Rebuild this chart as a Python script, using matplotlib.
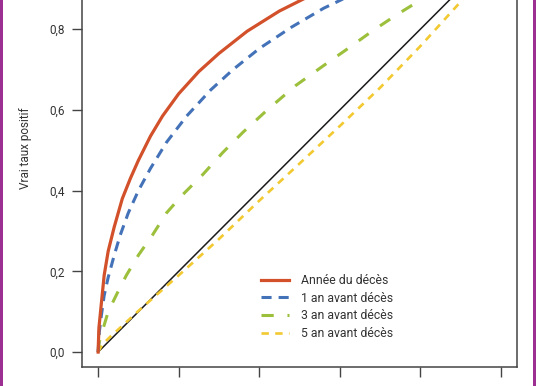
import matplotlib
matplotlib.use("Agg")
from matplotlib import pyplot as plt
from matplotlib.patches import Rectangle

# lecture approximative des courbes ROC
red_x = [0, 0.002, 0.007, 0.015, 0.025, 0.04, 0.06, 0.08, 0.1, 0.13, 0.16, 0.2,
         0.25, 0.3, 0.37, 0.45, 0.52, 0.6, 0.7, 0.8, 0.9, 1.0]
red_y = [0, 0.06, 0.11, 0.19, 0.25, 0.31, 0.38, 0.43, 0.475, 0.535, 0.585, 0.64,
         0.695, 0.74, 0.795, 0.845, 0.88, 0.915, 0.948, 0.974, 0.99, 1.0]

blue_x = [0, 0.003, 0.008, 0.015, 0.025, 0.04, 0.055, 0.075, 0.1, 0.13, 0.17, 0.22,
          0.28, 0.335, 0.4, 0.48, 0.56, 0.65, 0.75, 0.85, 0.93, 1.0]
blue_y = [0, 0.05, 0.09, 0.14, 0.185, 0.24, 0.29, 0.345, 0.40, 0.455, 0.52, 0.585,
          0.65, 0.70, 0.752, 0.805, 0.852, 0.895, 0.937, 0.968, 0.986, 1.0]

green_x = [0, 0.003, 0.01, 0.025, 0.047, 0.07, 0.1, 0.135, 0.17, 0.21, 0.26, 0.31,
           0.36, 0.42, 0.49, 0.56, 0.62, 0.68, 0.74, 0.8, 0.86, 0.92, 1.0]
green_y = [0, 0.025, 0.05, 0.10, 0.145, 0.19, 0.24, 0.29, 0.345, 0.39, 0.44, 0.495,
           0.545, 0.60, 0.66, 0.71, 0.752, 0.795, 0.835, 0.872, 0.91, 0.945, 1.0]

yellow_x = [0, 0.01, 0.03, 0.06, 0.1, 0.2, 0.3, 0.4, 0.5, 0.6, 0.7, 0.8, 0.9, 0.95, 1.0]
yellow_y = [0, 0.018, 0.038, 0.065, 0.102, 0.19, 0.28, 0.375, 0.467, 0.56, 0.655,
            0.758, 0.868, 0.93, 1.0]

diag = [0, 1]

labels = ["Année du décès", "1 an avant décès", "3 an avant décès", "5 an avant décès"]
ticks = [0, 0.2, 0.4, 0.6, 0.8, 1.0]
tick_labels = ["0,0", "0,2", "0,4", "0,6", "0,8", "1,0"]

plt.rcParams['font.family'] = ['Roboto', 'DejaVu Sans']

fig = plt.figure(figsize=(5.36, 3.86), dpi=100)
# axes volontairement plus haut que la figure (image rognée en haut)
ax = fig.add_axes([82 / 536, 19 / 386, 435 / 536, 1.126])

style = dict(solid_joinstyle='round', dash_joinstyle='round', dash_capstyle='butt')
ax.plot(diag, diag, color='#1a1a1a', lw=1.1)
ax.plot(yellow_x, yellow_y, color='#f2c930', lw=1.9, dashes=(2.8, 2.4), label=labels[3], **style)
ax.plot(green_x, green_y, color='#9cc03c', lw=2.2, dashes=(4, 4.5), label=labels[2], **style)
ax.plot(blue_x, blue_y, color='#4472b8', lw=2.2, dashes=(3.3, 2.3), label=labels[1], **style)
ax.plot(red_x, red_y, color='#d2502a', lw=2.3, label=labels[0], **style)

ax.set_xlim(-0.04, 1.04)
ax.set_ylim(-0.037, 1.04)
ax.set_xticks(ticks)
ax.set_xticklabels(tick_labels)
ax.set_yticks(ticks)
ax.set_yticklabels(tick_labels)
ax.tick_params(axis='both', direction='out', length=7, width=1, color='#444444',
               labelsize=8.5, labelcolor='#333333', pad=5.5)
for s in ax.spines.values():
    s.set_color('#444444')
    s.set_linewidth(1.1)

h, l = ax.get_legend_handles_labels()
leg = ax.legend(h[::-1], l[::-1], loc='upper left', frameon=False, fontsize=8.8,
                bbox_to_anchor=(261 / 536, 1 - 274 / 386), bbox_transform=fig.transFigure,
                borderpad=0, borderaxespad=0, handlelength=2.3, handletextpad=1.0,
                labelspacing=0.38)
for t in leg.get_texts():
    t.set_color('#333333')

fig.text(26 / 536, 1 - 148 / 386, "Vrai taux positif", rotation=90, ha='center',
         va='center', fontsize=8.5, color='#333333')

# bordure violette
fig.add_artist(Rectangle((0, 0), 3 / 536, 1, transform=fig.transFigure,
                         color='#9c2f92', lw=0))
fig.add_artist(Rectangle((533 / 536, 0), 3 / 536, 1, transform=fig.transFigure,
                         color='#9c2f92', lw=0))

fig.savefig('out.png', dpi=100)
